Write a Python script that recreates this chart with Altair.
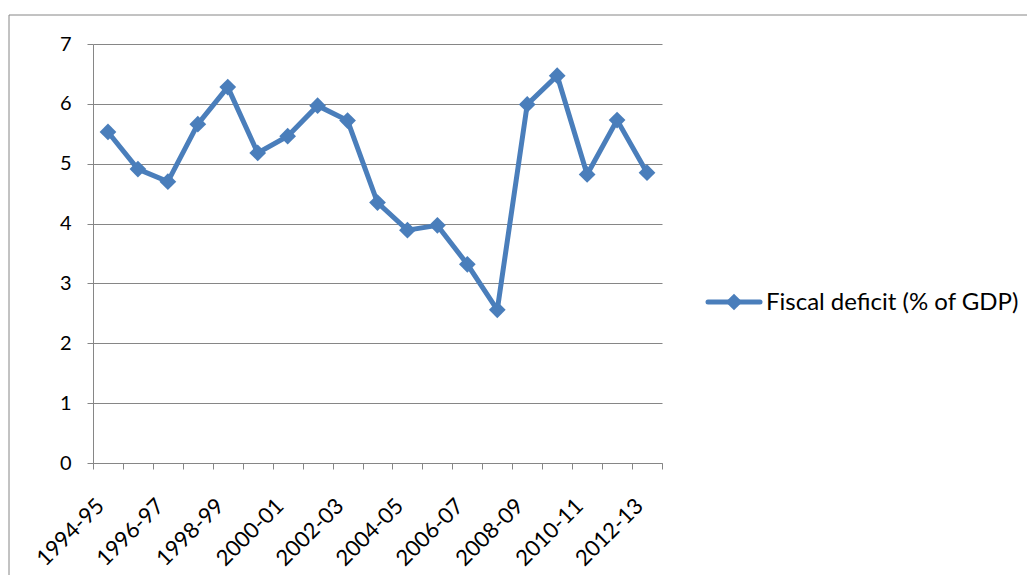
import altair as alt
import pandas as pd

years = ["1994-95", "1995-96", "1996-97", "1997-98", "1998-99", "1999-00",
         "2000-01", "2001-02", "2002-03", "2003-04", "2004-05", "2005-06",
         "2006-07", "2007-08", "2008-09", "2009-10", "2010-11", "2011-12",
         "2012-13"]
deficit = [5.53, 4.91, 4.70, 5.66, 6.28, 5.18, 5.46, 5.97, 5.72, 4.35,
           3.89, 3.97, 3.32, 2.56, 5.99, 6.47, 4.82, 5.73, 4.85]
shown_labels = years[::2]
series_name = "Fiscal deficit (% of GDP)"

BLUE = "#4a7ebb"
GRAY = "#868686"
FONT = "Lato"

df = pd.DataFrame({"year": years, "value": deficit})

label_list = "[" + ",".join("'%s'" % s for s in shown_labels) + "]"

x = alt.X("year:N", sort=years,
          scale=alt.Scale(paddingInner=0, paddingOuter=0),
          axis=alt.Axis(title=None, labelAngle=-45, labelAlign="right",
                        labelBaseline="middle", labelPadding=33, labelOffset=-8,
                        labelFont=FONT, labelFontSize=22, labelColor="#000000",
                        tickBand="extent", tickColor=GRAY, tickSize=6,
                        domainColor=GRAY, grid=False,
                        labelExpr="indexof(%s, datum.value) >= 0 ? datum.label : ''" % label_list))
y = alt.Y("value:Q", scale=alt.Scale(domain=[0, 7], nice=False),
          axis=alt.Axis(title=None, values=[0, 1, 2, 3, 4, 5, 6, 7],
                        labelFont=FONT, labelFontSize=20, labelColor="#000000",
                        labelPadding=16, tickColor=GRAY, tickSize=6,
                        domainColor=GRAY, gridColor=GRAY, gridWidth=1))

base = alt.Chart(df)
line = base.mark_line(color=BLUE, strokeWidth=5).encode(x=x, y=y)
pts = base.mark_point(shape="diamond", filled=True, color=BLUE, size=280,
                      opacity=1).encode(x=x, y=y)

one = pd.DataFrame({"label": [series_name]})
frame = alt.Chart(one).mark_rect(fill=None, stroke=GRAY, strokeWidth=1).encode(
    x=alt.value(-84), x2=alt.value(940), y=alt.value(-29), y2=alt.value(600))
leg_line = alt.Chart(one).mark_rule(color=BLUE, strokeWidth=5, strokeCap="round").encode(
    x=alt.value(615), x2=alt.value(667), y=alt.value(258))
leg_pt = alt.Chart(one).mark_point(shape="diamond", filled=True, color=BLUE,
                                   size=280, opacity=1).encode(
    x=alt.value(641), y=alt.value(258))
leg_txt = alt.Chart(one).mark_text(align="left", baseline="middle", font=FONT,
                                   fontSize=24, color="#000000").encode(
    x=alt.value(673), y=alt.value(259), text="label:N")

chart = alt.layer(frame, line, pts, leg_line, leg_pt, leg_txt).properties(
    width=569, height=419,
    autosize=alt.AutoSizeParams(type="none"),
    padding={"left": 85, "top": 36, "right": 365, "bottom": 112},
).configure_view(stroke=None)

chart.save("out.html", embed_options={"renderer": "svg", "actions": False})
